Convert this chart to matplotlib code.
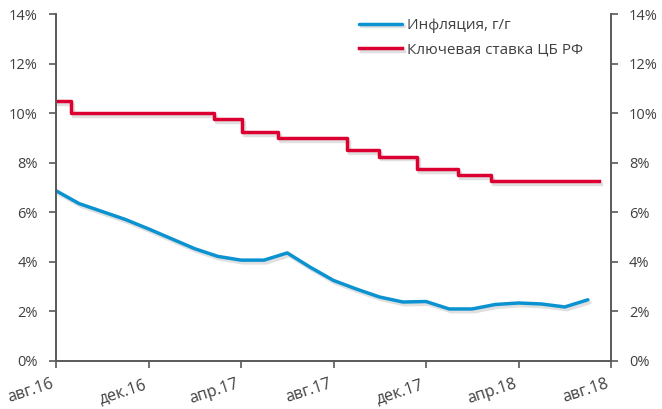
import numpy as np
import matplotlib
matplotlib.use("Agg")
import matplotlib.pyplot as plt
import matplotlib.patheffects as pe
from matplotlib.ticker import FuncFormatter

plt.rcParams['font.family'] = ['Open Sans', 'DejaVu Sans']

# months since авг.16
infl_x = list(range(24))
infl = [6.87, 6.35, 6.03, 5.71, 5.33, 4.93, 4.53, 4.22, 4.07, 4.07, 4.36, 3.78,
        3.25, 2.9, 2.58, 2.38, 2.4, 2.1, 2.1, 2.28, 2.34, 2.3, 2.18, 2.47]

# key rate change points (month position) and levels
rate_x = [0.0, 0.65, 6.83, 8.04, 9.6, 12.58, 13.97, 15.61, 17.38, 18.81, 23.48]
rate = [10.5, 10.0, 9.75, 9.25, 9.0, 8.5, 8.25, 7.75, 7.5, 7.25, 7.25]

tick_pos = [0, 4, 8, 12, 16, 20, 24]
tick_lab = ['авг.16', 'дек.16', 'апр.17', 'авг.17', 'дек.17', 'апр.18', 'авг.18']

blue = '#0b92d1'
red = '#dc0032'
grey = '#595959'

fig = plt.figure(figsize=(6.62, 4.09), dpi=100)
ax = fig.add_axes([56/662, 1-361/409, (611-56)/662, (361-14)/409])

shadow = [pe.SimpleLineShadow(offset=(1.5, -2), shadow_color='black', alpha=0.12), pe.Normal()]
ax.plot(infl_x, infl, color=blue, lw=2.5, solid_joinstyle='round',
        solid_capstyle='round', label='Инфляция, г/г', path_effects=shadow)
ax.plot(rate_x, rate, color=red, lw=2.5, drawstyle='steps-post',
        label='Ключевая ставка ЦБ РФ', path_effects=shadow)

ax.set_xlim(0, 24)
ax.set_ylim(0, 14)
ax.set_yticks(np.arange(0, 15, 2))
fmt = FuncFormatter(lambda v, p: f'{v:.0f}%')
ax.yaxis.set_major_formatter(fmt)
ax.set_xticks(tick_pos)
ax.set_xticklabels(tick_lab, rotation=18, ha='right')

ax2 = ax.twinx()
ax2.set_ylim(0, 14)
ax2.set_yticks(np.arange(0, 15, 2))
ax2.yaxis.set_major_formatter(fmt)

for a in (ax, ax2):
    a.spines['top'].set_visible(False)
    for s in a.spines.values():
        s.set_color(grey)
        s.set_linewidth(1.2)
    a.tick_params(colors=grey, labelcolor='#404040', labelsize=10.5, length=5, width=1.2, pad=8)
ax.tick_params(axis='x', pad=6, labelsize=11.5)

ax.legend(loc='upper left', bbox_to_anchor=(359/662, 1-18/409), bbox_transform=fig.transFigure,
          frameon=False, fontsize=11, handlelength=2.8, handletextpad=0.35,
          labelspacing=0.6, borderpad=0, borderaxespad=0, labelcolor='#404040')

fig.savefig('out.png', dpi=100)
